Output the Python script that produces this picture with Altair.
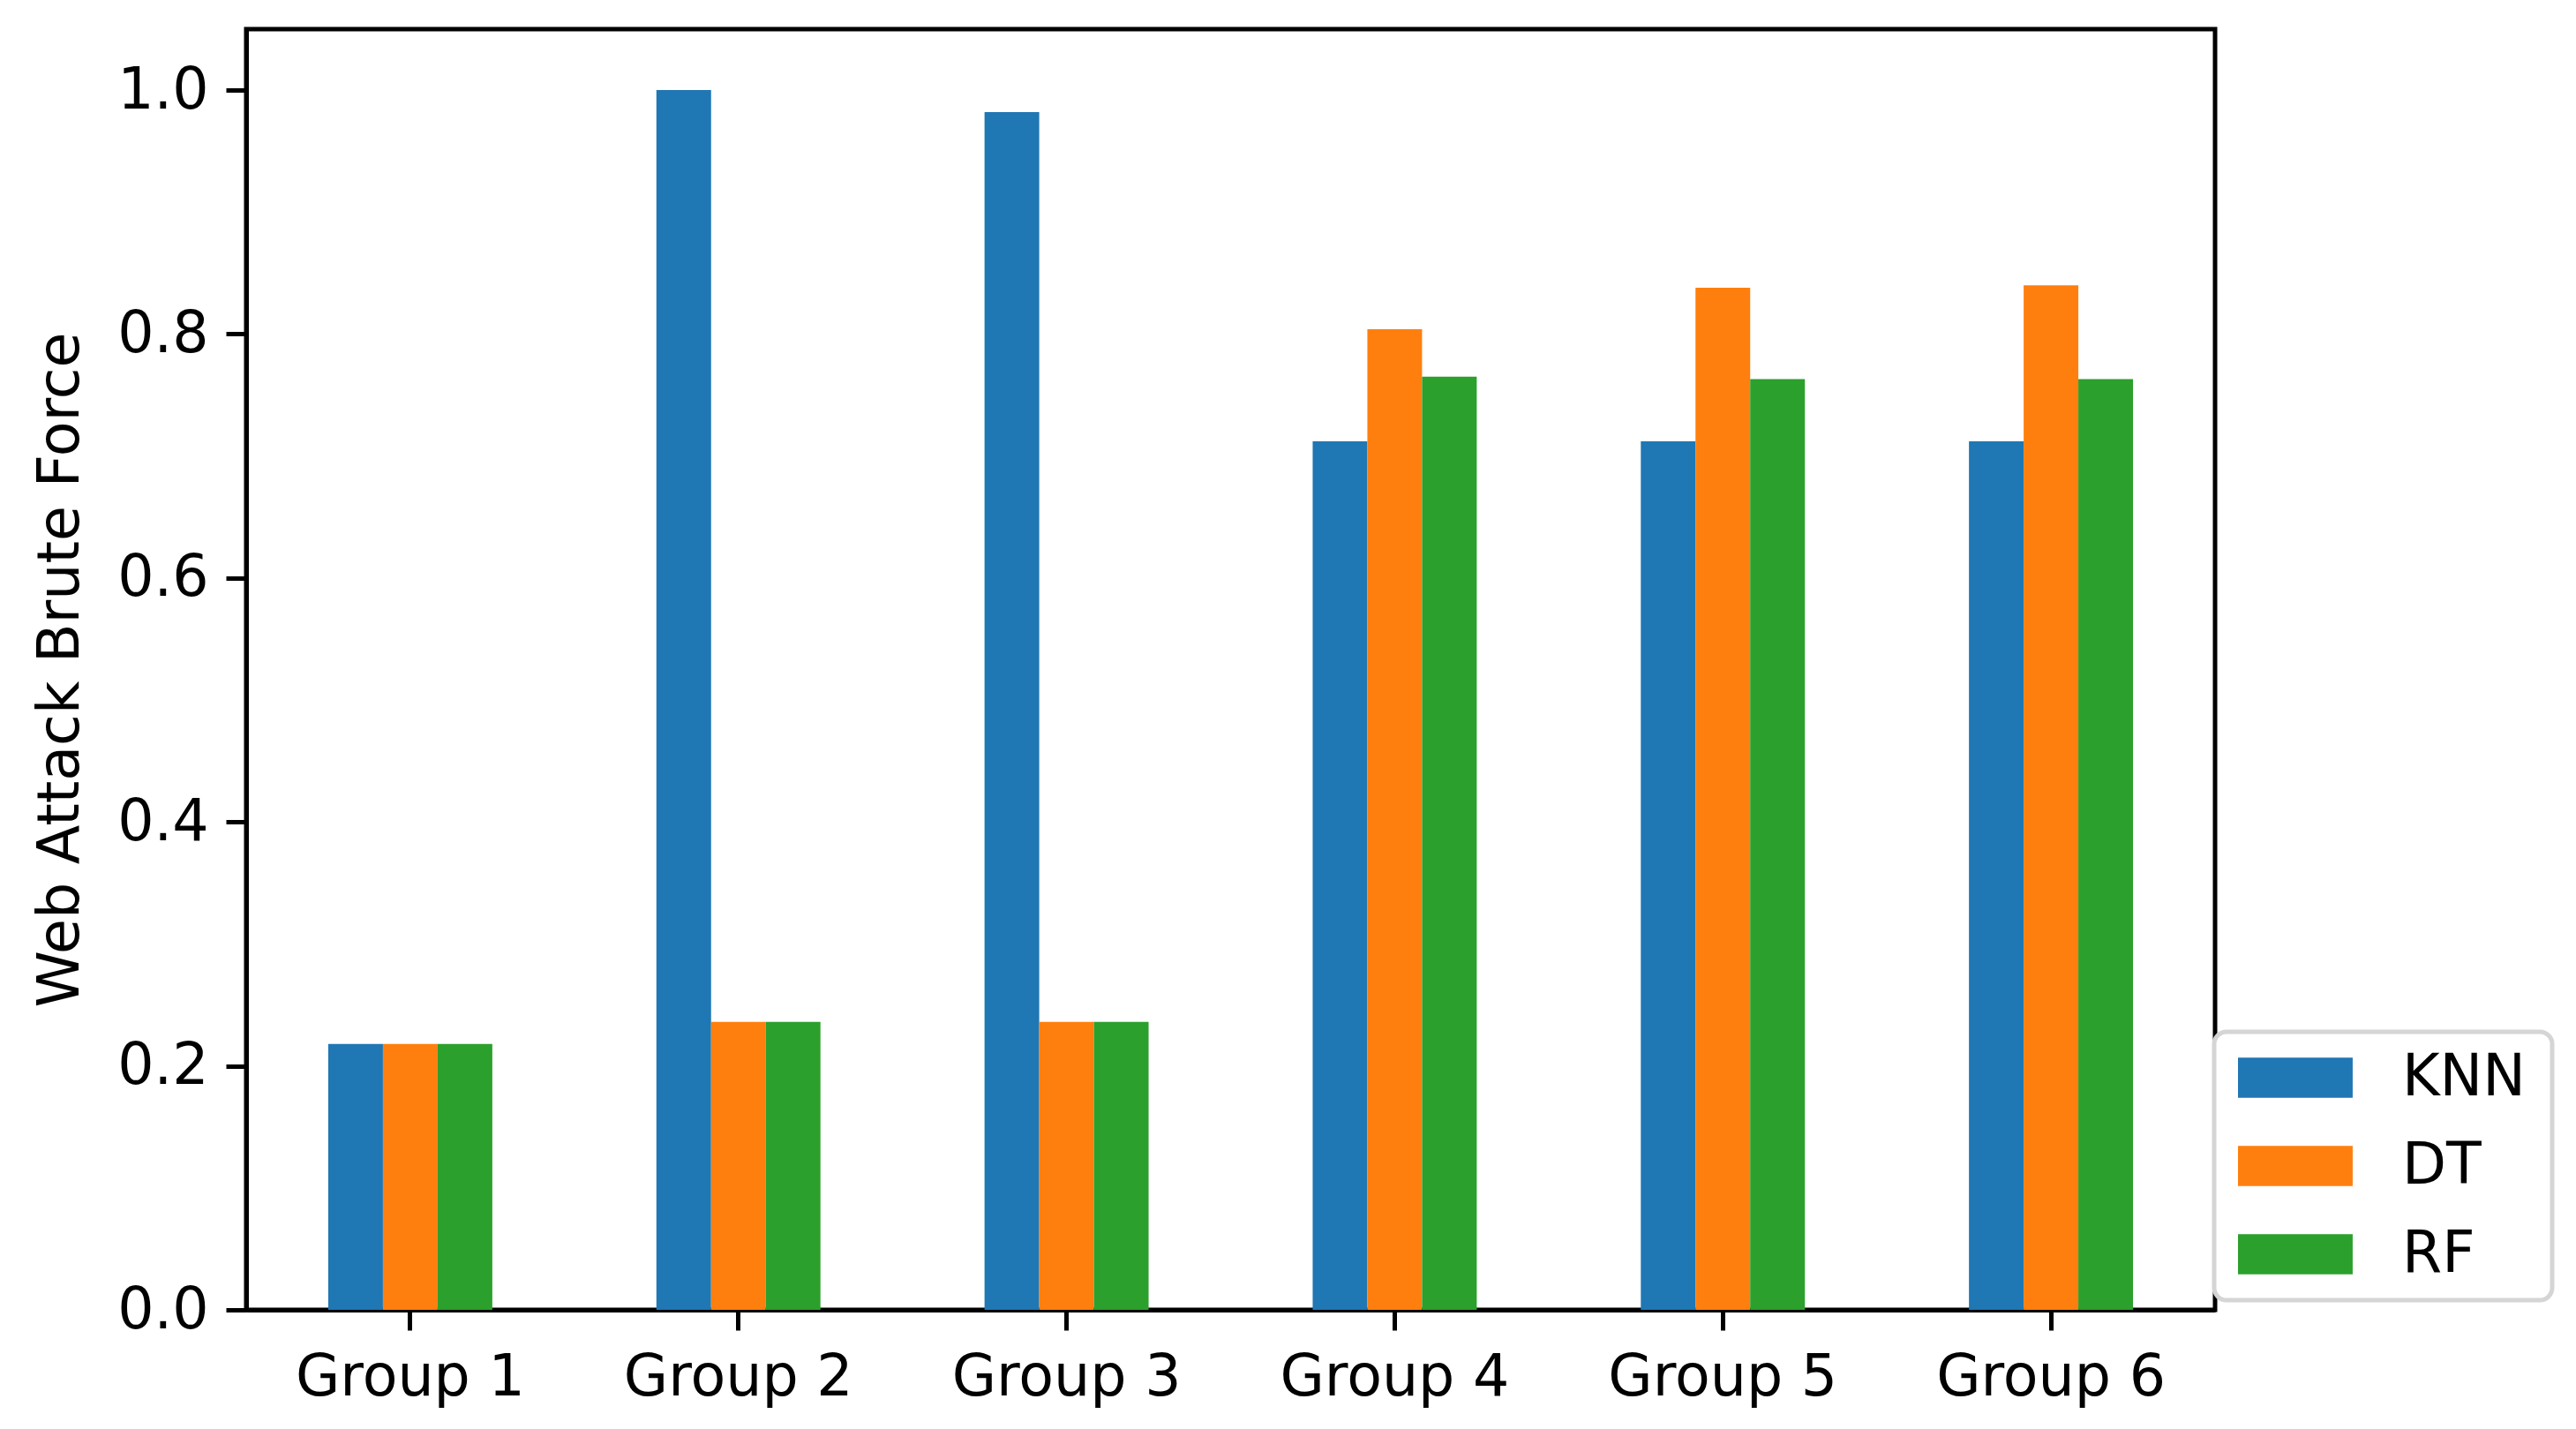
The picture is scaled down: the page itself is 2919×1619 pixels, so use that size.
import altair as alt
import pandas as pd

groups = ["Group 1", "Group 2", "Group 3", "Group 4", "Group 5", "Group 6"]
models = ["KNN", "DT", "RF"]
knn = [0.218, 1.0, 0.982, 0.712, 0.712, 0.712]
dt = [0.218, 0.236, 0.236, 0.804, 0.838, 0.840]
rf = [0.218, 0.236, 0.236, 0.765, 0.763, 0.763]
colors = ["#1f77b4", "#ff7f0e", "#2ca02c"]
y_ticks = [0.0, 0.2, 0.4, 0.6, 0.8, 1.0]

rows = []
for i, g in enumerate(groups):
    for m, vals in zip(models, [knn, dt, rf]):
        rows.append({"Group": g, "Model": m, "Value": vals[i]})
df = pd.DataFrame(rows)

FONT = "DejaVu Sans"

chart = alt.Chart(df).mark_bar().encode(
    x=alt.X("Group:N", sort=groups,
            scale=alt.Scale(paddingInner=0.5, paddingOuter=0.25),
            axis=alt.Axis(title=None, labelAngle=0, labelPadding=22, labelLimit=0)),
    xOffset=alt.XOffset("Model:N", sort=models,
                        scale=alt.Scale(domain=models, paddingInner=0, paddingOuter=0)),
    y=alt.Y("Value:Q", scale=alt.Scale(domain=[0, 1.05], nice=False, zero=True),
            axis=alt.Axis(title="Web Attack Brute Force", values=y_ticks, format=".1f",
                          labelPadding=20, titlePadding=30)),
    color=alt.Color("Model:N", sort=models,
                    scale=alt.Scale(domain=models, range=colors),
                    legend=alt.Legend(title="\u00a0", titleOrient="right", titlePadding=11,
                                      titleFontSize=2,
                                      orient="none", legendX=2230, legendY=1136)),
).properties(
    width=2231, height=1451,
    autosize=alt.AutoSizeParams(type="none"),
    padding={"left": 271, "top": 25, "right": 401, "bottom": 127},
).configure_view(
    stroke="black", strokeWidth=5
).configure_axis(
    grid=False, domainColor="black", domainWidth=5, tickColor="black", tickWidth=5,
    tickSize=23, labelFont=FONT, labelFontSize=65, labelColor="black",
    titleFont=FONT, titleFontSize=65, titleFontWeight="normal", titleColor="black"
).configure_legend(
    padding=19, strokeColor="#d5d5d5", strokeWidth=5, cornerRadius=14, fillColor="white",
    symbolType="M-0.758,-0.689L3.18,-0.689L3.18,0.689L-0.758,0.689Z", symbolSize=4356,
    symbolStrokeWidth=0, symbolOpacity=1, symbolOffset=0,
    labelFontSize=65, labelFont=FONT, labelColor="black", labelOffset=128, rowPadding=34
)

chart.save("out.html", embed_options={"renderer": "svg", "actions": False})
